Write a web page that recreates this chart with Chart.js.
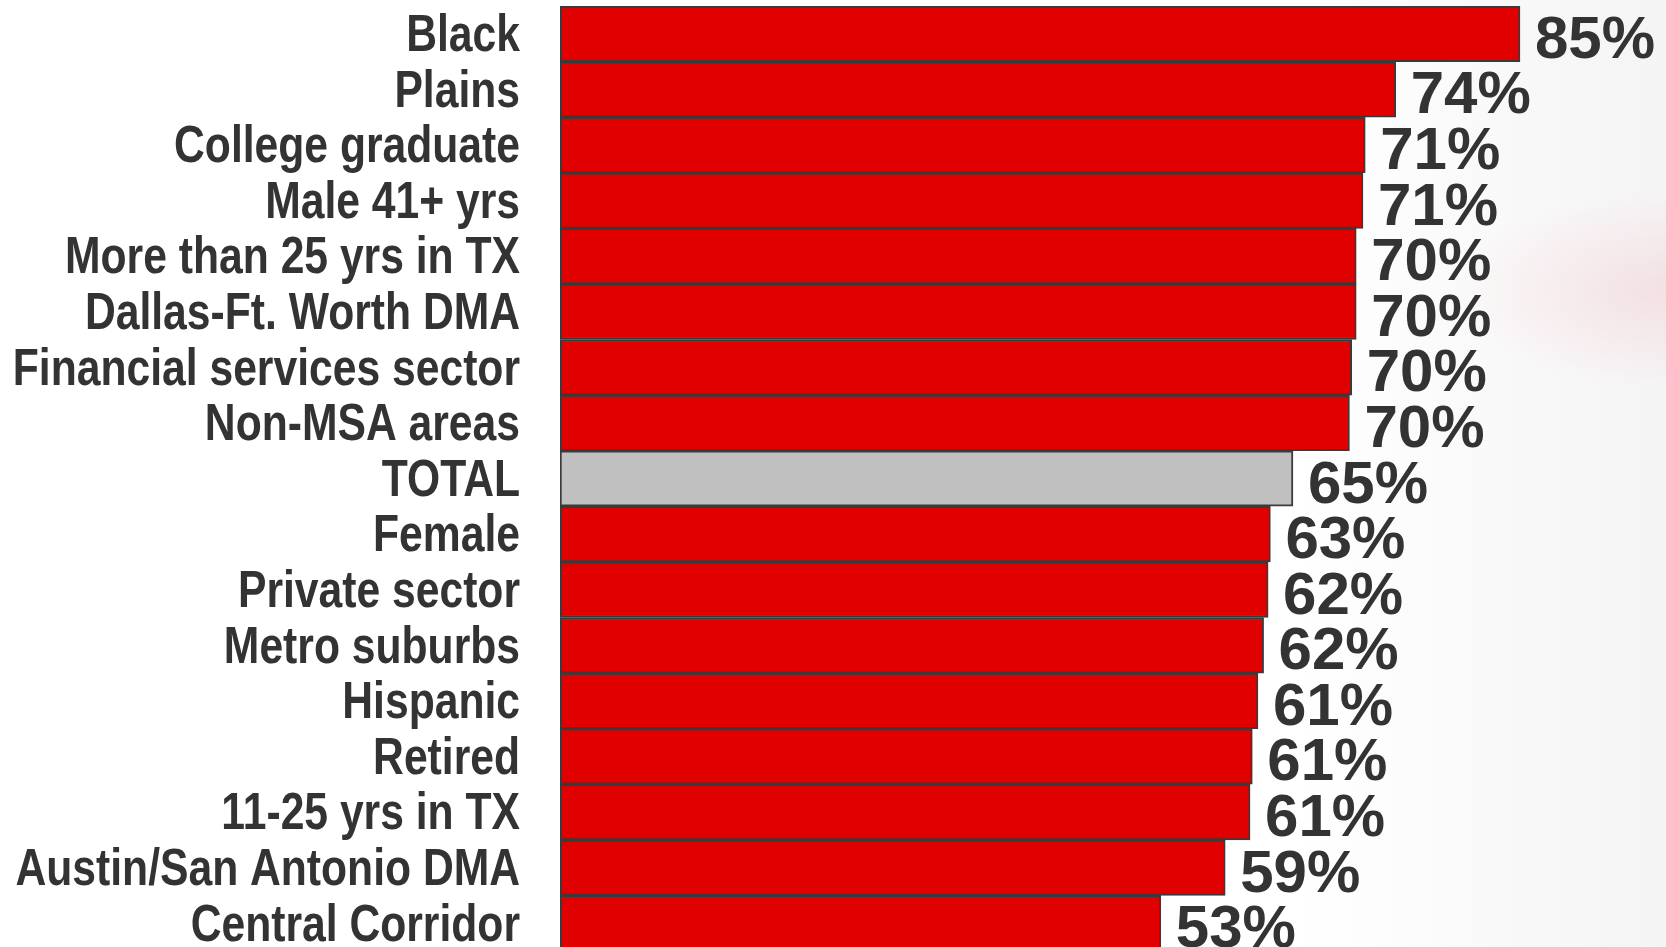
<!DOCTYPE html>
<html lang="en">
<head>
  <meta charset="UTF-8" />
  <title>Segments</title>
  <script src="https://cdn.jsdelivr.net/npm/chart.js"></script>
  <style>
    html, body { margin: 0; padding: 0; overflow: hidden; }
    body {
      width: 1666px; height: 947px;
      background:
        radial-gradient(ellipse 300px 140px at 1660px 290px, rgba(230, 120, 130, 0.16), rgba(255, 255, 255, 0) 70%),
        linear-gradient(90deg, #ffffff 0%, #ffffff 78%, #f5f4f5 100%);
    }
    #chart { display: block; }
  </style>
</head>
<body>
  <canvas id="chart" width="1666" height="951"></canvas>
  <script>
    const categories = [
      'Black', 'Plains', 'College graduate', 'Male 41+ yrs', 'More than 25 yrs in TX',
      'Dallas-Ft. Worth DMA', 'Financial services sector', 'Non-MSA areas', 'TOTAL',
      'Female', 'Private sector', 'Metro suburbs', 'Hispanic', 'Retired',
      '11-25 yrs in TX', 'Austin/San Antonio DMA', 'Central Corridor'
    ];
    const values = [85, 74, 71.3, 71.1, 70.5, 70.5, 70.1, 69.9, 64.9, 62.9, 62.7, 62.3, 61.8, 61.3, 61.1, 58.9, 53.2];
    const valueLabels = ['85%', '74%', '71%', '71%', '70%', '70%', '70%', '70%', '65%', '63%', '62%', '62%', '61%', '61%', '61%', '59%', '53%'];

    const RED = '#e00000';
    const GREY = '#c0c0c0';
    const TEXT = '#333333';

    // category names in a narrow bold face (Arial Narrow is Arial squeezed to ~82%)
    const categoryLabels = {
      id: 'categoryLabels',
      afterDraw(chart) {
        const ctx = chart.ctx;
        const y = chart.scales.y;
        ctx.save();
        ctx.font = 'bold 52px "Liberation Sans", Arial, sans-serif';
        ctx.fillStyle = TEXT;
        ctx.textAlign = 'right';
        ctx.textBaseline = 'middle';
        categories.forEach((name, i) => {
          ctx.save();
          ctx.translate(y.right - 40, y.getPixelForValue(i) + 3);
          ctx.scale(0.82, 1);
          ctx.fillText(name, 0, 0);
          ctx.restore();
        });
        ctx.restore();
      }
    };

    const barLabels = {
      id: 'barLabels',
      afterDatasetsDraw(chart) {
        const ctx = chart.ctx;
        const meta = chart.getDatasetMeta(0);
        ctx.save();
        ctx.font = 'bold 60px "Liberation Sans", Arial, sans-serif';
        ctx.fillStyle = TEXT;
        ctx.textAlign = 'left';
        ctx.textBaseline = 'alphabetic';
        meta.data.forEach((bar, i) => {
          ctx.fillText(valueLabels[i], bar.x + 15, bar.y + 24);
        });
        ctx.restore();
      }
    };

    new Chart(document.getElementById('chart'), {
      type: 'bar',
      data: {
        labels: categories,
        datasets: [{
          data: values,
          backgroundColor: categories.map(c => c === 'TOTAL' ? GREY : RED),
          borderColor: '#3a3a3a',
          borderWidth: 2,
          borderSkipped: false,
          categoryPercentage: 1,
          barPercentage: 1
        }]
      },
      options: {
        indexAxis: 'y',
        responsive: false,
        animation: false,
        devicePixelRatio: 1,
        layout: { padding: { top: 6, right: 0, bottom: 0, left: 0 } },
        scales: {
          x: { display: false, min: 0, max: 97.93 },
          y: {
            afterFit(scale) {
              scale.width = 560;
              scale.paddingTop = 0;
              scale.paddingBottom = 0;
            },
            grid: { display: false },
            border: { display: false },
            ticks: { display: false }
          }
        },
        plugins: {
          legend: { display: false },
          tooltip: { enabled: false }
        }
      },
      plugins: [categoryLabels, barLabels]
    });
  </script>
</body>
</html>
